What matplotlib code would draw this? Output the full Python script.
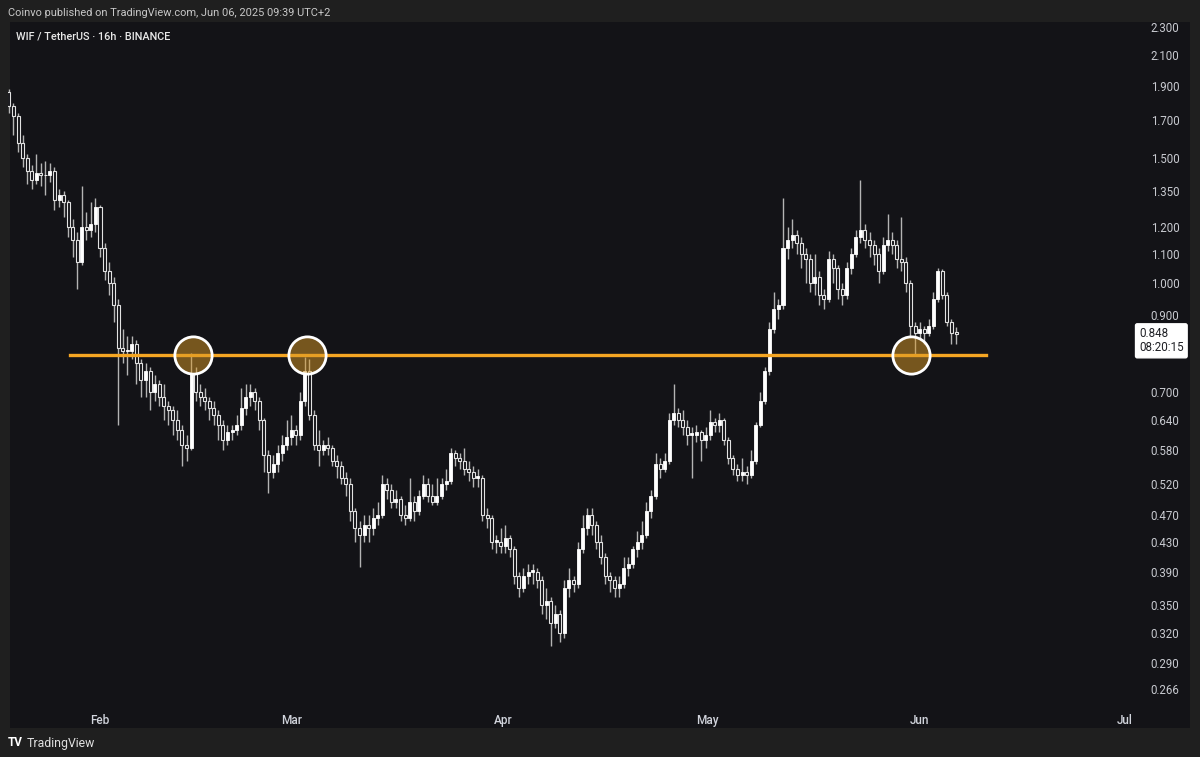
import matplotlib
matplotlib.use("Agg")
import matplotlib.pyplot as plt
import matplotlib.dates as mdates
from matplotlib.ticker import FixedLocator, NullLocator, FuncFormatter
from matplotlib.patches import Rectangle
import numpy as np
import pandas as pd

# WIF / USDT, 16h candles
first_open = 1.86
closes = [1.78, 1.72, 1.58, 1.50, 1.44, 1.40, 1.43, 1.42, 1.42, 1.44,
          1.31, 1.33, 1.30, 1.20, 1.15, 1.07, 1.20, 1.19, 1.21, 1.28,
          1.12, 1.04, 1.00, 0.93, 0.81, 0.80, 0.80, 0.82, 0.77, 0.73,
          0.75, 0.70, 0.72, 0.69, 0.67, 0.66, 0.64, 0.62, 0.59, 0.585,
          0.745, 0.70, 0.69, 0.68, 0.665, 0.65, 0.63, 0.60, 0.615, 0.62,
          0.63, 0.665, 0.69, 0.70, 0.68, 0.64, 0.57, 0.54, 0.555, 0.575,
          0.59, 0.605, 0.62, 0.61, 0.68, 0.75, 0.65, 0.59, 0.58, 0.59,
          0.585, 0.56, 0.55, 0.53, 0.52, 0.475, 0.45, 0.44, 0.455, 0.45,
          0.465, 0.47, 0.52, 0.51, 0.49, 0.495, 0.47, 0.465, 0.49, 0.475,
          0.50, 0.52, 0.50, 0.49, 0.50, 0.52, 0.525, 0.575, 0.565, 0.56,
          0.545, 0.54, 0.53, 0.53, 0.47, 0.465, 0.43, 0.43, 0.425, 0.435,
          0.42, 0.385, 0.37, 0.385, 0.39, 0.39, 0.38, 0.35, 0.355, 0.33,
          0.34, 0.32, 0.37, 0.38, 0.375, 0.42, 0.45, 0.47, 0.455, 0.43,
          0.41, 0.385, 0.38, 0.37, 0.375, 0.395, 0.40, 0.42, 0.43, 0.44,
          0.475, 0.50, 0.555, 0.545, 0.56, 0.64, 0.655, 0.64, 0.625, 0.61,
          0.61, 0.615, 0.60, 0.61, 0.635, 0.63, 0.64, 0.60, 0.565, 0.545,
          0.535, 0.54, 0.535, 0.56, 0.63, 0.68, 0.75, 0.86, 0.92, 0.93,
          1.12, 1.15, 1.17, 1.14, 1.10, 1.08, 1.00, 1.02, 0.96, 0.95,
          1.08, 1.05, 0.98, 0.96, 1.05, 1.10, 1.16, 1.19, 1.15, 1.13,
          1.10, 1.04, 1.13, 1.15, 1.13, 1.08, 1.07, 1.00, 0.87, 0.85,
          0.86, 0.85, 0.87, 0.95, 1.04, 0.96, 0.88, 0.85, 0.848]
highs = [1.88, 1.80, 1.74, 1.62, 1.52, 1.47, 1.52, 1.48, 1.49, 1.48,
         1.46, 1.36, 1.35, 1.31, 1.23, 1.18, 1.37, 1.26, 1.30, 1.32,
         1.29, 1.14, 1.07, 1.02, 0.95, 0.86, 0.84, 0.84, 0.83, 0.78,
         0.77, 0.76, 0.74, 0.73, 0.72, 0.68, 0.67, 0.66, 0.63, 0.61,
         0.795, 0.76, 0.72, 0.71, 0.69, 0.68, 0.66, 0.64, 0.63, 0.63,
         0.65, 0.71, 0.72, 0.72, 0.71, 0.69, 0.645, 0.58, 0.57, 0.59,
         0.61, 0.64, 0.65, 0.63, 0.70, 0.785, 0.78, 0.66, 0.62, 0.60,
         0.605, 0.59, 0.57, 0.56, 0.54, 0.53, 0.48, 0.46, 0.47, 0.47,
         0.48, 0.49, 0.535, 0.53, 0.52, 0.51, 0.50, 0.485, 0.53, 0.50,
         0.51, 0.535, 0.53, 0.52, 0.53, 0.53, 0.545, 0.585, 0.58, 0.575,
         0.585, 0.56, 0.55, 0.545, 0.535, 0.48, 0.47, 0.44, 0.45, 0.455,
         0.44, 0.425, 0.39, 0.395, 0.40, 0.40, 0.395, 0.385, 0.37, 0.36,
         0.35, 0.345, 0.38, 0.395, 0.385, 0.43, 0.47, 0.48, 0.48, 0.46,
         0.44, 0.415, 0.39, 0.385, 0.385, 0.41, 0.41, 0.425, 0.445, 0.46,
         0.49, 0.51, 0.575, 0.565, 0.575, 0.655, 0.72, 0.665, 0.66, 0.64,
         0.625, 0.63, 0.62, 0.625, 0.66, 0.645, 0.655, 0.645, 0.605, 0.57,
         0.555, 0.565, 0.55, 0.58, 0.635, 0.70, 0.76, 0.88, 0.97, 0.95,
         1.32, 1.20, 1.23, 1.19, 1.16, 1.12, 1.10, 1.10, 1.04, 0.98,
         1.11, 1.10, 1.06, 1.00, 1.07, 1.12, 1.19, 1.40, 1.21, 1.18,
         1.15, 1.12, 1.16, 1.25, 1.18, 1.15, 1.24, 1.09, 1.01, 0.88,
         0.88, 0.87, 0.89, 0.97, 1.05, 1.045, 0.97, 0.89, 0.865]
lows = [1.74, 1.62, 1.53, 1.46, 1.38, 1.36, 1.38, 1.37, 1.33, 1.39,
        1.27, 1.28, 1.24, 1.16, 1.09, 0.98, 1.06, 1.15, 1.16, 1.18,
        1.09, 1.01, 0.96, 0.88, 0.63, 0.77, 0.74, 0.78, 0.72, 0.69,
        0.69, 0.66, 0.68, 0.67, 0.64, 0.63, 0.61, 0.60, 0.55, 0.56,
        0.58, 0.68, 0.67, 0.66, 0.64, 0.63, 0.60, 0.58, 0.59, 0.60,
        0.61, 0.62, 0.65, 0.67, 0.66, 0.62, 0.54, 0.505, 0.53, 0.54,
        0.56, 0.58, 0.59, 0.59, 0.60, 0.67, 0.64, 0.58, 0.55, 0.57,
        0.57, 0.55, 0.53, 0.52, 0.50, 0.46, 0.43, 0.397, 0.43, 0.43,
        0.44, 0.455, 0.465, 0.495, 0.48, 0.48, 0.46, 0.455, 0.46, 0.46,
        0.47, 0.495, 0.49, 0.485, 0.485, 0.495, 0.51, 0.52, 0.55, 0.545,
        0.535, 0.525, 0.515, 0.515, 0.46, 0.45, 0.42, 0.415, 0.415, 0.415,
        0.41, 0.375, 0.36, 0.365, 0.375, 0.375, 0.37, 0.34, 0.335, 0.306,
        0.325, 0.31, 0.315, 0.36, 0.365, 0.37, 0.415, 0.44, 0.44, 0.42,
        0.40, 0.375, 0.365, 0.36, 0.36, 0.37, 0.385, 0.395, 0.41, 0.42,
        0.435, 0.465, 0.495, 0.53, 0.54, 0.555, 0.63, 0.625, 0.61, 0.59,
        0.53, 0.595, 0.56, 0.585, 0.60, 0.615, 0.615, 0.59, 0.555, 0.535,
        0.525, 0.525, 0.52, 0.53, 0.555, 0.625, 0.675, 0.74, 0.85, 0.89,
        0.92, 1.08, 1.12, 1.10, 1.05, 1.00, 0.97, 0.96, 0.93, 0.92,
        0.94, 1.00, 0.95, 0.93, 0.95, 1.03, 1.09, 1.14, 1.12, 1.09,
        1.06, 1.00, 1.03, 1.11, 1.10, 1.05, 1.04, 0.97, 0.84, 0.79,
        0.83, 0.82, 0.84, 0.86, 0.94, 0.95, 0.87, 0.82, 0.82]
opens = [first_open] + closes[:-1]

start_time = "2025-01-18 16:00"
times = pd.date_range(start_time, periods=len(closes), freq="16h")

support_level = 0.792
support_start = "2025-01-27 14:00"
support_end = "2025-06-10 18:00"
touch_times = ["2025-02-14 15:00", "2025-03-03 07:00", "2025-05-30 17:00"]

price_ticks = [2.3, 2.1, 1.9, 1.7, 1.5, 1.35, 1.2, 1.1, 1.0, 0.9, 0.8, 0.7,
               0.64, 0.58, 0.52, 0.47, 0.43, 0.39, 0.35, 0.32, 0.29, 0.266]
month_ticks = ["2025-02-01", "2025-03-01", "2025-04-01", "2025-05-01", "2025-06-01", "2025-07-01"]
month_labels = ["Feb", "Mar", "Apr", "May", "Jun", "Jul"]
countdown = "08:20:15"

bg_outer = "#1f1f1f"
bg_panel = "#131317"
txt = "#d1d4dc"
font = "Roboto"

W, H = 1200, 757
fig = plt.figure(figsize=(12, 7.57), dpi=100, facecolor=bg_outer)
fig.patches.append(Rectangle((10 / W, 1 - 728 / H), 1180 / W, 706 / H,
                             transform=fig.transFigure, facecolor=bg_panel,
                             edgecolor="none", zorder=-5))

ax = fig.add_axes([8 / W, 1 - 700 / H, 1122 / W, 678 / H])
ax.set_facecolor("none")
ax.set_zorder(1)

x = mdates.date2num(times.to_pydatetime())
o = np.array(opens)
c = np.array(closes)
up = c >= o

ax.vlines(x, lows, highs, color="#b4b4b4", linewidth=1, zorder=2)
body_bottom = np.minimum(o, c)
body_height = np.maximum(np.abs(c - o), 0.003)
ax.bar(x[up], body_height[up], bottom=body_bottom[up], width=0.44,
       color="#ffffff", edgecolor="#ffffff", linewidth=0.6, zorder=3)
ax.bar(x[~up], body_height[~up], bottom=body_bottom[~up], width=0.44,
       color=bg_panel, edgecolor="#e2e2e2", linewidth=0.8, zorder=3)

# support line + touch circles
line_x = mdates.date2num(pd.to_datetime([support_start, support_end]).to_pydatetime())
ax.plot(line_x, [support_level, support_level], color="#f5a623", linewidth=2.4, zorder=4)
tx = mdates.date2num(pd.to_datetime(touch_times).to_pydatetime())
ax.scatter(tx, [support_level] * len(tx), s=720, facecolor=(0.85, 0.6, 0.15, 0.5),
           edgecolor="white", linewidth=2, zorder=5)

ax.set_yscale("log")
ax.set_ylim(0.257, 2.34)
feb1 = mdates.date2num(pd.Timestamp("2025-02-01"))
px_per_day = 6.83
ax.set_xlim(feb1 - 92 / px_per_day, feb1 + 1030 / px_per_day)

ax.yaxis.tick_right()
ax.yaxis.set_major_locator(FixedLocator(price_ticks))
ax.yaxis.set_minor_locator(NullLocator())
ax.yaxis.set_major_formatter(FuncFormatter(lambda v, p: f"{v:.3f}"))
ax.xaxis.set_major_locator(FixedLocator(mdates.date2num(pd.to_datetime(month_ticks).to_pydatetime())))
ax.xaxis.set_minor_locator(NullLocator())
ax.set_xticklabels(month_labels)
ax.tick_params(axis="y", length=0, pad=15, labelsize=8.3, labelcolor="#c8cad0")
ax.tick_params(axis="x", length=0, pad=10, labelsize=8.5, labelcolor=txt)
for lab in ax.get_xticklabels() + ax.get_yticklabels():
    lab.set_fontfamily(font)
for lab in ax.get_xticklabels():
    lab.set_fontweight("medium")
for s in ax.spines.values():
    s.set_visible(False)

# last price label
ax.annotate(f"{closes[-1]:.3f}\n{countdown}", xy=(1, closes[-1]),
            xycoords=("axes fraction", "data"), xytext=(6.5, 4.5), textcoords="offset points",
            ha="left", va="top", fontsize=8.4, color="#1e1f24", fontfamily=font,
            linespacing=1.1, annotation_clip=False, zorder=10,
            bbox=dict(boxstyle="round,pad=0.3,rounding_size=0.15", facecolor="white",
                      edgecolor="white"))

fig.text(8 / W, 1 - 13 / H, "Coinvo published on TradingView.com, Jun 06, 2025 09:39 UTC+2",
         color="#c8c8c8", fontsize=7.9, fontfamily=font, va="center", ha="left")
fig.text(16 / W, 1 - 36 / H, "WIF / TetherUS · 16h · BINANCE", color="#e8e8e8",
         fontsize=7.8, fontfamily=font, fontweight="medium", va="center", ha="left", zorder=5)
fig.text(8 / W, 1 - 743 / H, "TV", color="white", fontsize=8.5, fontfamily=font,
         fontweight="bold", va="center", ha="left")
fig.text(27 / W, 1 - 743 / H, "TradingView", color="#e0e0e0", fontsize=8.8,
         fontfamily=font, va="center", ha="left")

fig.savefig("out.png", dpi=100, facecolor=bg_outer)
